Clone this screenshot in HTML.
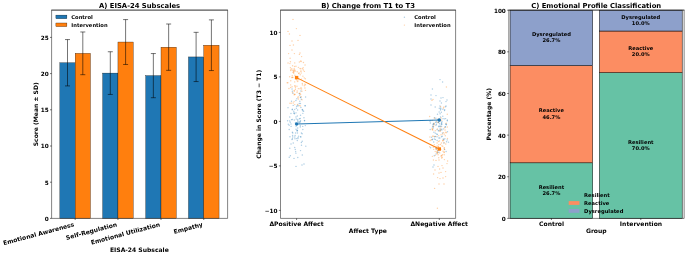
<!DOCTYPE html>
<html lang="en">
<head>
<meta charset="utf-8">
<title>EISA-24 figure</title>
<style>
html,body{margin:0;padding:0;background:#fff;}
body{width:685px;height:253px;overflow:hidden;}
svg{display:block;will-change:transform;}
text{white-space:pre;}
</style>
</head>
<body>
<svg width="685" height="253" viewBox="0 0 685 253" font-family="'DejaVu Sans','Liberation Sans',sans-serif" font-weight="bold" fill="#000">
<rect width="685" height="253" fill="#fff"/>
<g id="panelA">
<rect x="59.85" y="62.74" width="15.3" height="155.66" fill="#1f77b4" stroke="#000" stroke-width="0.3"/>
<rect x="75.15" y="53.33" width="15.3" height="165.07" fill="#ff7f0e" stroke="#000" stroke-width="0.3"/>
<path d="M67.5 39.57V85.91M65 39.57H70M65 85.91H70" stroke="#000" stroke-width="0.55" fill="none"/>
<path d="M82.8 31.97V74.69M80.3 31.97H85.3M80.3 74.69H85.3" stroke="#000" stroke-width="0.55" fill="none"/>
<rect x="102.65" y="73.09" width="15.3" height="145.31" fill="#1f77b4" stroke="#000" stroke-width="0.3"/>
<rect x="117.95" y="42.03" width="15.3" height="176.37" fill="#ff7f0e" stroke="#000" stroke-width="0.3"/>
<path d="M110.3 51.74V94.45M107.8 51.74H112.8M107.8 94.45H112.8" stroke="#000" stroke-width="0.55" fill="none"/>
<path d="M125.6 19.59V64.48M123.1 19.59H128.1M123.1 64.48H128.1" stroke="#000" stroke-width="0.55" fill="none"/>
<rect x="145.7" y="75.63" width="15.3" height="142.77" fill="#1f77b4" stroke="#000" stroke-width="0.3"/>
<rect x="161" y="47.17" width="15.3" height="171.23" fill="#ff7f0e" stroke="#000" stroke-width="0.3"/>
<path d="M153.35 53.55V97.71M150.85 53.55H155.85M150.85 97.71H155.85" stroke="#000" stroke-width="0.55" fill="none"/>
<path d="M168.65 24.01V70.34M166.15 24.01H171.15M166.15 70.34H171.15" stroke="#000" stroke-width="0.55" fill="none"/>
<rect x="188.45" y="56.95" width="15.3" height="161.45" fill="#1f77b4" stroke="#000" stroke-width="0.3"/>
<rect x="203.75" y="45.22" width="15.3" height="173.18" fill="#ff7f0e" stroke="#000" stroke-width="0.3"/>
<path d="M196.1 32.33V81.56M193.6 32.33H198.6M193.6 81.56H198.6" stroke="#000" stroke-width="0.55" fill="none"/>
<path d="M211.4 19.88V70.56M208.9 19.88H213.9M208.9 70.56H213.9" stroke="#000" stroke-width="0.55" fill="none"/>
<path d="M51.32 10.1H227.88" stroke="#222" stroke-width="0.95" fill="none"/>
<path d="M51.6 10.2V218.4H227.6V10.2" stroke="#222" stroke-width="0.56" fill="none"/>
<line x1="50" y1="218.4" x2="51.6" y2="218.4" stroke="#000" stroke-width="0.55"/>
<text x="48.65" y="220.79" font-size="5.72" text-anchor="end">0</text>
<line x1="50" y1="182.2" x2="51.6" y2="182.2" stroke="#000" stroke-width="0.55"/>
<text x="48.65" y="184.59" font-size="5.72" text-anchor="end">5</text>
<line x1="50" y1="146" x2="51.6" y2="146" stroke="#000" stroke-width="0.55"/>
<text x="48.65" y="148.39" font-size="5.72" text-anchor="end">10</text>
<line x1="50" y1="109.8" x2="51.6" y2="109.8" stroke="#000" stroke-width="0.55"/>
<text x="48.65" y="112.19" font-size="5.72" text-anchor="end">15</text>
<line x1="50" y1="73.6" x2="51.6" y2="73.6" stroke="#000" stroke-width="0.55"/>
<text x="48.65" y="75.99" font-size="5.72" text-anchor="end">20</text>
<line x1="50" y1="37.4" x2="51.6" y2="37.4" stroke="#000" stroke-width="0.55"/>
<text x="48.65" y="39.79" font-size="5.72" text-anchor="end">25</text>
<line x1="75.15" y1="218.4" x2="75.15" y2="220" stroke="#000" stroke-width="0.55"/>
<text transform="translate(74.55 226.3) rotate(-15)" font-size="6.06" text-anchor="end">Emotional Awareness</text>
<line x1="117.95" y1="218.4" x2="117.95" y2="220" stroke="#000" stroke-width="0.55"/>
<text transform="translate(117.35 226.3) rotate(-15)" font-size="6.06" text-anchor="end">Self-Regulation</text>
<line x1="161" y1="218.4" x2="161" y2="220" stroke="#000" stroke-width="0.55"/>
<text transform="translate(160.4 226.3) rotate(-15)" font-size="6.06" text-anchor="end">Emotional Utilization</text>
<line x1="203.75" y1="218.4" x2="203.75" y2="220" stroke="#000" stroke-width="0.55"/>
<text transform="translate(203.15 226.3) rotate(-15)" font-size="6.06" text-anchor="end">Empathy</text>
<text x="139.6" y="7.7" font-size="6.82" text-anchor="middle">A) EISA-24 Subscales</text>
<text x="139.35" y="251.5" font-size="6.06" text-anchor="middle">EISA-24 Subscale</text>
<text transform="translate(38.3 114.3) rotate(-90)" font-size="6.06" text-anchor="middle">Score (Mean ± SD)</text>
<rect x="53.6" y="12.2" width="57" height="17.4" rx="1" fill="#fff" fill-opacity="0.8"/>
<rect x="55.9" y="15.1" width="11" height="3.6" fill="#1f77b4" stroke="#000" stroke-width="0.3"/>
<rect x="55.9" y="23" width="11" height="3.6" fill="#ff7f0e" stroke="#000" stroke-width="0.3"/>
<text x="71.3" y="18.65" font-size="5.2" text-anchor="start">Control</text>
<text x="71.3" y="26.55" font-size="5.2" text-anchor="start">Intervention</text>
</g>
<g id="panelB">
<g fill="#1f77b4" fill-opacity="0.36">
<circle cx="289.75" cy="117.01" r="0.72"/><circle cx="302.17" cy="133.66" r="0.72"/><circle cx="289.16" cy="125.29" r="0.72"/><circle cx="299.28" cy="103.54" r="0.72"/><circle cx="289.79" cy="148.23" r="0.72"/><circle cx="300.55" cy="115.21" r="0.72"/><circle cx="305.19" cy="105.71" r="0.72"/><circle cx="296.03" cy="129.2" r="0.72"/><circle cx="294.98" cy="138.74" r="0.72"/><circle cx="290.23" cy="122.29" r="0.72"/><circle cx="297.41" cy="130.52" r="0.72"/><circle cx="296.25" cy="118.97" r="0.72"/><circle cx="300.48" cy="103.57" r="0.72"/><circle cx="297.77" cy="157.52" r="0.72"/><circle cx="300.53" cy="150.6" r="0.72"/><circle cx="295.64" cy="151.62" r="0.72"/><circle cx="296.61" cy="138.62" r="0.72"/><circle cx="296.33" cy="108.33" r="0.72"/><circle cx="289.19" cy="129.45" r="0.72"/><circle cx="300.31" cy="125.8" r="0.72"/><circle cx="298.67" cy="122.14" r="0.72"/><circle cx="290.97" cy="113.53" r="0.72"/><circle cx="292.05" cy="89.09" r="0.72"/><circle cx="293.77" cy="111.25" r="0.72"/><circle cx="296.61" cy="106.27" r="0.72"/><circle cx="293.23" cy="105.4" r="0.72"/><circle cx="295.91" cy="100.46" r="0.72"/><circle cx="300.1" cy="121.43" r="0.72"/><circle cx="292.23" cy="109.72" r="0.72"/><circle cx="299.22" cy="93.38" r="0.72"/><circle cx="294.49" cy="113.7" r="0.72"/><circle cx="299.44" cy="118.78" r="0.72"/><circle cx="297.77" cy="120.67" r="0.72"/><circle cx="293.25" cy="143.03" r="0.72"/><circle cx="294.38" cy="113.03" r="0.72"/><circle cx="305.06" cy="105.81" r="0.72"/><circle cx="302.5" cy="109.54" r="0.72"/><circle cx="300.51" cy="120.64" r="0.72"/><circle cx="300.92" cy="90.92" r="0.72"/><circle cx="294.77" cy="137.04" r="0.72"/><circle cx="297.97" cy="105.92" r="0.72"/><circle cx="301.49" cy="145.3" r="0.72"/><circle cx="297.59" cy="110.01" r="0.72"/><circle cx="297.31" cy="140.59" r="0.72"/><circle cx="295.97" cy="117.08" r="0.72"/><circle cx="302.85" cy="110.81" r="0.72"/><circle cx="296.93" cy="98.75" r="0.72"/><circle cx="292.34" cy="109.25" r="0.72"/><circle cx="302.83" cy="129.53" r="0.72"/><circle cx="291.52" cy="119.64" r="0.72"/><circle cx="299.56" cy="95.13" r="0.72"/><circle cx="290.98" cy="124.03" r="0.72"/><circle cx="300.23" cy="127.02" r="0.72"/><circle cx="302.22" cy="141.22" r="0.72"/><circle cx="294.29" cy="119.92" r="0.72"/><circle cx="300.06" cy="121.95" r="0.72"/><circle cx="305.32" cy="125.6" r="0.72"/><circle cx="292.76" cy="132.94" r="0.72"/><circle cx="300.64" cy="97.45" r="0.72"/><circle cx="300.26" cy="118.43" r="0.72"/><circle cx="292.61" cy="135.48" r="0.72"/><circle cx="293.61" cy="113.11" r="0.72"/><circle cx="294.72" cy="109.35" r="0.72"/><circle cx="297.06" cy="130.29" r="0.72"/><circle cx="297.26" cy="116.06" r="0.72"/><circle cx="301.41" cy="132.99" r="0.72"/><circle cx="295.3" cy="149.56" r="0.72"/><circle cx="305.58" cy="96.94" r="0.72"/><circle cx="295.6" cy="133.01" r="0.72"/><circle cx="289.68" cy="120.89" r="0.72"/><circle cx="297.98" cy="138.61" r="0.72"/><circle cx="304.49" cy="120.53" r="0.72"/><circle cx="287.59" cy="120.7" r="0.72"/><circle cx="302.87" cy="113.37" r="0.72"/><circle cx="295.89" cy="153.13" r="0.72"/><circle cx="291.52" cy="101.28" r="0.72"/><circle cx="305.81" cy="146.15" r="0.72"/><circle cx="288.01" cy="107.63" r="0.72"/><circle cx="301.38" cy="142.51" r="0.72"/><circle cx="292.71" cy="137.04" r="0.72"/><circle cx="289.94" cy="136.78" r="0.72"/><circle cx="303.6" cy="111.18" r="0.72"/><circle cx="296.12" cy="126.6" r="0.72"/><circle cx="291.1" cy="126.38" r="0.72"/><circle cx="289.25" cy="157.29" r="0.72"/><circle cx="300.5" cy="97.15" r="0.72"/><circle cx="301.29" cy="99.17" r="0.72"/><circle cx="298.01" cy="137.49" r="0.72"/><circle cx="297.08" cy="131.06" r="0.72"/><circle cx="290.38" cy="155.7" r="0.72"/><circle cx="288.3" cy="124.17" r="0.72"/><circle cx="297.44" cy="132.94" r="0.72"/><circle cx="304.6" cy="120.72" r="0.72"/><circle cx="299.86" cy="101.29" r="0.72"/><circle cx="300.81" cy="136.94" r="0.72"/><circle cx="303.94" cy="117.76" r="0.72"/><circle cx="302.24" cy="109.8" r="0.72"/><circle cx="300.63" cy="136.65" r="0.72"/><circle cx="292.37" cy="132.2" r="0.72"/><circle cx="300.9" cy="107.54" r="0.72"/><circle cx="302.26" cy="155.09" r="0.72"/><circle cx="296.03" cy="112.85" r="0.72"/><circle cx="292.32" cy="119.49" r="0.72"/><circle cx="297.9" cy="105.24" r="0.72"/><circle cx="292" cy="139.56" r="0.72"/><circle cx="292.33" cy="91.31" r="0.72"/><circle cx="302.71" cy="126.38" r="0.72"/><circle cx="297.86" cy="121.93" r="0.72"/><circle cx="297.74" cy="127.97" r="0.72"/><circle cx="294.73" cy="147.56" r="0.72"/><circle cx="293.01" cy="93.22" r="0.72"/><circle cx="299.6" cy="122.86" r="0.72"/><circle cx="295.4" cy="122.9" r="0.72"/><circle cx="298.58" cy="136.14" r="0.72"/><circle cx="297.7" cy="119.58" r="0.72"/><circle cx="292.41" cy="138.82" r="0.72"/><circle cx="291.01" cy="143.94" r="0.72"/><circle cx="295.11" cy="135.49" r="0.72"/><circle cx="294" cy="158.4" r="0.72"/><circle cx="296" cy="166.4" r="0.72"/><circle cx="302" cy="165" r="0.72"/><circle cx="304" cy="164" r="0.72"/><circle cx="434" cy="165" r="0.72"/><circle cx="433" cy="167" r="0.72"/>
</g>
<g fill="#1f77b4" fill-opacity="0.36">
<circle cx="435.83" cy="118.24" r="0.72"/><circle cx="445.62" cy="118.62" r="0.72"/><circle cx="438.51" cy="130.88" r="0.72"/><circle cx="437.09" cy="140.38" r="0.72"/><circle cx="432.22" cy="139.68" r="0.72"/><circle cx="441.29" cy="124.2" r="0.72"/><circle cx="447.47" cy="131.69" r="0.72"/><circle cx="430.64" cy="147.69" r="0.72"/><circle cx="446.56" cy="141.83" r="0.72"/><circle cx="445.17" cy="126.79" r="0.72"/><circle cx="437.1" cy="129.79" r="0.72"/><circle cx="437.49" cy="152.34" r="0.72"/><circle cx="433.69" cy="141.97" r="0.72"/><circle cx="437.42" cy="150.62" r="0.72"/><circle cx="437.02" cy="136.7" r="0.72"/><circle cx="442.5" cy="132.95" r="0.72"/><circle cx="444.54" cy="110.44" r="0.72"/><circle cx="430.2" cy="129.44" r="0.72"/><circle cx="437.96" cy="119.64" r="0.72"/><circle cx="440.04" cy="126.01" r="0.72"/><circle cx="440.36" cy="130.41" r="0.72"/><circle cx="441.32" cy="112.17" r="0.72"/><circle cx="430.37" cy="122.93" r="0.72"/><circle cx="443.89" cy="142.96" r="0.72"/><circle cx="445.45" cy="126.91" r="0.72"/><circle cx="441.56" cy="122.35" r="0.72"/><circle cx="434.92" cy="136.56" r="0.72"/><circle cx="443.28" cy="138.95" r="0.72"/><circle cx="446.08" cy="151.57" r="0.72"/><circle cx="445.99" cy="124.25" r="0.72"/><circle cx="435.94" cy="125.25" r="0.72"/><circle cx="432.84" cy="124.69" r="0.72"/><circle cx="438.25" cy="122.57" r="0.72"/><circle cx="445.92" cy="124.07" r="0.72"/><circle cx="433.29" cy="127.94" r="0.72"/><circle cx="438.55" cy="126.1" r="0.72"/><circle cx="433.68" cy="124.41" r="0.72"/><circle cx="435.9" cy="122.4" r="0.72"/><circle cx="445.59" cy="106.72" r="0.72"/><circle cx="434.46" cy="117.69" r="0.72"/><circle cx="441.93" cy="124.22" r="0.72"/><circle cx="439.52" cy="123.73" r="0.72"/><circle cx="440.68" cy="107.97" r="0.72"/><circle cx="437.4" cy="134.46" r="0.72"/><circle cx="439.29" cy="108.16" r="0.72"/><circle cx="433.41" cy="123.59" r="0.72"/><circle cx="435.19" cy="107.04" r="0.72"/><circle cx="436.05" cy="121.9" r="0.72"/><circle cx="434.87" cy="136.69" r="0.72"/><circle cx="443.88" cy="139.67" r="0.72"/><circle cx="441.83" cy="130.12" r="0.72"/><circle cx="438.71" cy="152.39" r="0.72"/><circle cx="443.3" cy="128.88" r="0.72"/><circle cx="441.58" cy="126.17" r="0.72"/><circle cx="439.15" cy="111.95" r="0.72"/><circle cx="442.19" cy="136.18" r="0.72"/><circle cx="440.02" cy="128.92" r="0.72"/><circle cx="443.03" cy="118.65" r="0.72"/><circle cx="434.22" cy="155.68" r="0.72"/><circle cx="442.02" cy="121.72" r="0.72"/><circle cx="429.87" cy="121.05" r="0.72"/><circle cx="430.78" cy="120.45" r="0.72"/><circle cx="440.1" cy="113.66" r="0.72"/><circle cx="440.52" cy="116.93" r="0.72"/><circle cx="432.92" cy="126.8" r="0.72"/><circle cx="436.44" cy="124.17" r="0.72"/><circle cx="440.81" cy="108.96" r="0.72"/><circle cx="441.55" cy="123.51" r="0.72"/><circle cx="444.53" cy="149.4" r="0.72"/><circle cx="441.55" cy="129.24" r="0.72"/><circle cx="444.86" cy="138.76" r="0.72"/><circle cx="438.73" cy="122.32" r="0.72"/><circle cx="438.76" cy="130.37" r="0.72"/><circle cx="438.92" cy="138.08" r="0.72"/><circle cx="440.44" cy="109.91" r="0.72"/><circle cx="438.32" cy="120.22" r="0.72"/><circle cx="447.19" cy="139.89" r="0.72"/><circle cx="436.18" cy="153.9" r="0.72"/><circle cx="435.38" cy="133.14" r="0.72"/><circle cx="433.92" cy="132.33" r="0.72"/><circle cx="438.2" cy="122.01" r="0.72"/><circle cx="438.96" cy="150.84" r="0.72"/><circle cx="441.56" cy="136.66" r="0.72"/><circle cx="448.48" cy="142.15" r="0.72"/><circle cx="436.05" cy="148.56" r="0.72"/><circle cx="439.85" cy="138.05" r="0.72"/><circle cx="438.93" cy="126.68" r="0.72"/><circle cx="444.54" cy="118.87" r="0.72"/><circle cx="434.26" cy="139.03" r="0.72"/><circle cx="436.74" cy="133.94" r="0.72"/><circle cx="435.39" cy="139.47" r="0.72"/><circle cx="433.86" cy="123.63" r="0.72"/><circle cx="447.33" cy="119.99" r="0.72"/><circle cx="436.44" cy="148.72" r="0.72"/><circle cx="440.49" cy="120.45" r="0.72"/><circle cx="432.43" cy="139.32" r="0.72"/><circle cx="442.81" cy="116.32" r="0.72"/><circle cx="437.49" cy="114.27" r="0.72"/><circle cx="432.96" cy="126.53" r="0.72"/><circle cx="446.4" cy="124.7" r="0.72"/><circle cx="447.28" cy="120.76" r="0.72"/><circle cx="440.11" cy="126.57" r="0.72"/><circle cx="431.57" cy="137.25" r="0.72"/><circle cx="442.91" cy="109.19" r="0.72"/><circle cx="444.64" cy="109.84" r="0.72"/><circle cx="440" cy="79.6" r="0.72"/><circle cx="442.6" cy="82" r="0.72"/><circle cx="432.4" cy="89" r="0.72"/><circle cx="431" cy="95" r="0.72"/><circle cx="436" cy="95.6" r="0.72"/><circle cx="441" cy="98" r="0.72"/><circle cx="443" cy="97.6" r="0.72"/><circle cx="447" cy="100" r="0.72"/><circle cx="431" cy="99" r="0.72"/><circle cx="440" cy="101" r="0.72"/><circle cx="441.4" cy="103" r="0.72"/><circle cx="446" cy="101.6" r="0.72"/><circle cx="431" cy="105" r="0.72"/><circle cx="440" cy="106" r="0.72"/><circle cx="446" cy="106" r="0.72"/>
</g>
<g fill="#ff7f0e" fill-opacity="0.36">
<circle cx="302.32" cy="83.47" r="0.72"/><circle cx="295.34" cy="89.43" r="0.72"/><circle cx="300.04" cy="93.17" r="0.72"/><circle cx="290.66" cy="84.88" r="0.72"/><circle cx="305.3" cy="78.81" r="0.72"/><circle cx="297.5" cy="77.59" r="0.72"/><circle cx="304.22" cy="77.86" r="0.72"/><circle cx="302.02" cy="99.78" r="0.72"/><circle cx="299.33" cy="62.05" r="0.72"/><circle cx="294.67" cy="81.88" r="0.72"/><circle cx="295.23" cy="86.19" r="0.72"/><circle cx="294.92" cy="94.53" r="0.72"/><circle cx="292.25" cy="75.78" r="0.72"/><circle cx="298.35" cy="88.63" r="0.72"/><circle cx="299.52" cy="93.8" r="0.72"/><circle cx="297.8" cy="97.16" r="0.72"/><circle cx="293.71" cy="73.2" r="0.72"/><circle cx="296.39" cy="79.34" r="0.72"/><circle cx="304.36" cy="71.39" r="0.72"/><circle cx="288.94" cy="88.56" r="0.72"/><circle cx="300.05" cy="88.73" r="0.72"/><circle cx="289.97" cy="103.16" r="0.72"/><circle cx="292.28" cy="77.5" r="0.72"/><circle cx="292.97" cy="77.4" r="0.72"/><circle cx="290.79" cy="70.46" r="0.72"/><circle cx="297.09" cy="80.74" r="0.72"/><circle cx="302.44" cy="84.89" r="0.72"/><circle cx="294.78" cy="85.79" r="0.72"/><circle cx="294.13" cy="94.83" r="0.72"/><circle cx="301.17" cy="72.99" r="0.72"/><circle cx="301.58" cy="79.12" r="0.72"/><circle cx="299.13" cy="72.93" r="0.72"/><circle cx="299.44" cy="105.61" r="0.72"/><circle cx="297.06" cy="92.48" r="0.72"/><circle cx="292.75" cy="70.24" r="0.72"/><circle cx="298.57" cy="96.85" r="0.72"/><circle cx="291.77" cy="68.79" r="0.72"/><circle cx="298.65" cy="73.58" r="0.72"/><circle cx="290.67" cy="87.45" r="0.72"/><circle cx="294.73" cy="94.32" r="0.72"/><circle cx="296.96" cy="86.18" r="0.72"/><circle cx="300.75" cy="68.86" r="0.72"/><circle cx="295.96" cy="66.18" r="0.72"/><circle cx="294.73" cy="69.85" r="0.72"/><circle cx="294.76" cy="104.61" r="0.72"/><circle cx="290.1" cy="58.17" r="0.72"/><circle cx="293.49" cy="71.83" r="0.72"/><circle cx="292.09" cy="86.68" r="0.72"/><circle cx="291.86" cy="77.57" r="0.72"/><circle cx="301.91" cy="91.27" r="0.72"/><circle cx="300.58" cy="94.55" r="0.72"/><circle cx="299.98" cy="68.46" r="0.72"/><circle cx="303.39" cy="70.02" r="0.72"/><circle cx="289.92" cy="63.6" r="0.72"/><circle cx="290.43" cy="61.75" r="0.72"/><circle cx="305.06" cy="65.06" r="0.72"/><circle cx="297.54" cy="104.39" r="0.72"/><circle cx="294.9" cy="75.19" r="0.72"/><circle cx="293.74" cy="70.17" r="0.72"/><circle cx="297.76" cy="81.51" r="0.72"/><circle cx="303.44" cy="62.42" r="0.72"/><circle cx="294.11" cy="90.7" r="0.72"/><circle cx="287.16" cy="82.7" r="0.72"/><circle cx="292.59" cy="65.84" r="0.72"/><circle cx="304.8" cy="84.11" r="0.72"/><circle cx="289.65" cy="76.73" r="0.72"/><circle cx="301.56" cy="88.97" r="0.72"/><circle cx="300.43" cy="105.89" r="0.72"/><circle cx="304.33" cy="85.8" r="0.72"/><circle cx="287.89" cy="82.81" r="0.72"/><circle cx="298.49" cy="98.95" r="0.72"/><circle cx="293.84" cy="72.03" r="0.72"/><circle cx="294.19" cy="68.67" r="0.72"/><circle cx="301.08" cy="71.12" r="0.72"/><circle cx="297.17" cy="91.05" r="0.72"/><circle cx="302.34" cy="68.75" r="0.72"/><circle cx="290.42" cy="67.81" r="0.72"/><circle cx="297.21" cy="71.81" r="0.72"/><circle cx="300.19" cy="74.68" r="0.72"/><circle cx="305.46" cy="90.38" r="0.72"/><circle cx="294.36" cy="70.9" r="0.72"/><circle cx="300.78" cy="60.97" r="0.72"/><circle cx="304.93" cy="87.97" r="0.72"/><circle cx="303.14" cy="67.8" r="0.72"/><circle cx="290.76" cy="80.72" r="0.72"/><circle cx="301" cy="87.82" r="0.72"/><circle cx="292.48" cy="92.8" r="0.72"/><circle cx="300.78" cy="71.1" r="0.72"/><circle cx="291.36" cy="103.13" r="0.72"/><circle cx="295.44" cy="87.78" r="0.72"/><circle cx="294.34" cy="90.94" r="0.72"/><circle cx="302.92" cy="76.14" r="0.72"/><circle cx="298.4" cy="67.37" r="0.72"/><circle cx="294.71" cy="62.89" r="0.72"/><circle cx="301.2" cy="96.64" r="0.72"/><circle cx="288.04" cy="63.07" r="0.72"/><circle cx="298.8" cy="79.81" r="0.72"/><circle cx="294.12" cy="101.62" r="0.72"/><circle cx="294.55" cy="66.44" r="0.72"/><circle cx="292.88" cy="72.36" r="0.72"/><circle cx="290.96" cy="69.71" r="0.72"/><circle cx="295.38" cy="71.05" r="0.72"/><circle cx="293.2" cy="102.92" r="0.72"/><circle cx="305.44" cy="84.73" r="0.72"/><circle cx="301.08" cy="61.59" r="0.72"/><circle cx="293" cy="19.4" r="0.72"/><circle cx="296.4" cy="28.6" r="0.72"/><circle cx="288" cy="31.4" r="0.72"/><circle cx="289.4" cy="34" r="0.72"/><circle cx="300" cy="35.4" r="0.72"/><circle cx="298" cy="40.4" r="0.72"/><circle cx="292" cy="41" r="0.72"/><circle cx="290" cy="45.4" r="0.72"/><circle cx="293.4" cy="45" r="0.72"/><circle cx="292" cy="50" r="0.72"/><circle cx="288.6" cy="53.6" r="0.72"/><circle cx="294.4" cy="53.6" r="0.72"/><circle cx="300" cy="53" r="0.72"/><circle cx="299.4" cy="54.4" r="0.72"/><circle cx="301.6" cy="56.6" r="0.72"/>
</g>
<g fill="#ff7f0e" fill-opacity="0.36">
<circle cx="445.89" cy="132.15" r="0.72"/><circle cx="442.78" cy="134.04" r="0.72"/><circle cx="432.14" cy="128.27" r="0.72"/><circle cx="439.72" cy="152.9" r="0.72"/><circle cx="440.44" cy="144.55" r="0.72"/><circle cx="444.2" cy="154.77" r="0.72"/><circle cx="444.5" cy="149.57" r="0.72"/><circle cx="443.04" cy="151.21" r="0.72"/><circle cx="434.33" cy="123.14" r="0.72"/><circle cx="436.86" cy="152.13" r="0.72"/><circle cx="434.34" cy="144.62" r="0.72"/><circle cx="437.12" cy="142.96" r="0.72"/><circle cx="431.4" cy="139.75" r="0.72"/><circle cx="444.44" cy="134.12" r="0.72"/><circle cx="432.89" cy="136.07" r="0.72"/><circle cx="441.45" cy="142.93" r="0.72"/><circle cx="441.71" cy="155.91" r="0.72"/><circle cx="440.5" cy="129.19" r="0.72"/><circle cx="438.71" cy="144.8" r="0.72"/><circle cx="435.51" cy="136.4" r="0.72"/><circle cx="438.46" cy="147.01" r="0.72"/><circle cx="432.25" cy="129.63" r="0.72"/><circle cx="432.82" cy="129.97" r="0.72"/><circle cx="446.1" cy="132.66" r="0.72"/><circle cx="438.72" cy="135.63" r="0.72"/><circle cx="432.44" cy="129.15" r="0.72"/><circle cx="447.31" cy="126.91" r="0.72"/><circle cx="444.57" cy="127.75" r="0.72"/><circle cx="446.18" cy="123.34" r="0.72"/><circle cx="438.74" cy="157.75" r="0.72"/><circle cx="442.93" cy="141" r="0.72"/><circle cx="435.28" cy="130.75" r="0.72"/><circle cx="447.28" cy="114.18" r="0.72"/><circle cx="432.38" cy="156.37" r="0.72"/><circle cx="435.22" cy="155.19" r="0.72"/><circle cx="429.9" cy="137.06" r="0.72"/><circle cx="432.38" cy="120.39" r="0.72"/><circle cx="439.72" cy="121.15" r="0.72"/><circle cx="437.17" cy="151.51" r="0.72"/><circle cx="442.76" cy="146.3" r="0.72"/><circle cx="444.38" cy="147.7" r="0.72"/><circle cx="438.34" cy="141.51" r="0.72"/><circle cx="445.28" cy="135.84" r="0.72"/><circle cx="437.21" cy="152.72" r="0.72"/><circle cx="438.09" cy="154.68" r="0.72"/><circle cx="436.55" cy="121.01" r="0.72"/><circle cx="433.29" cy="147.19" r="0.72"/><circle cx="440.91" cy="126.89" r="0.72"/><circle cx="444.31" cy="152.07" r="0.72"/><circle cx="441" cy="156" r="0.72"/><circle cx="437.53" cy="153.49" r="0.72"/><circle cx="443.62" cy="132.61" r="0.72"/><circle cx="433.67" cy="149.35" r="0.72"/><circle cx="447.47" cy="138.43" r="0.72"/><circle cx="435.22" cy="151.58" r="0.72"/><circle cx="437.35" cy="128.88" r="0.72"/><circle cx="439.49" cy="140.98" r="0.72"/><circle cx="444.1" cy="142.75" r="0.72"/><circle cx="434.37" cy="118.15" r="0.72"/><circle cx="445.06" cy="130.09" r="0.72"/><circle cx="444.18" cy="148.3" r="0.72"/><circle cx="439.24" cy="148.3" r="0.72"/><circle cx="444.02" cy="152.47" r="0.72"/><circle cx="441.1" cy="117.94" r="0.72"/><circle cx="442.46" cy="154.61" r="0.72"/><circle cx="441.63" cy="157.91" r="0.72"/><circle cx="442.24" cy="157.5" r="0.72"/><circle cx="435.91" cy="146.73" r="0.72"/><circle cx="441.65" cy="120.13" r="0.72"/><circle cx="443.44" cy="107.93" r="0.72"/><circle cx="441.82" cy="145.86" r="0.72"/><circle cx="437.16" cy="146.06" r="0.72"/><circle cx="440.1" cy="130.95" r="0.72"/><circle cx="441.02" cy="134.79" r="0.72"/><circle cx="433.56" cy="126.4" r="0.72"/><circle cx="439.92" cy="131.07" r="0.72"/><circle cx="437.96" cy="118.89" r="0.72"/><circle cx="441.81" cy="155.38" r="0.72"/><circle cx="436.61" cy="149.21" r="0.72"/><circle cx="443.22" cy="139.88" r="0.72"/><circle cx="438.02" cy="122.52" r="0.72"/><circle cx="443.95" cy="107.04" r="0.72"/><circle cx="440.76" cy="149.42" r="0.72"/><circle cx="430.24" cy="140.49" r="0.72"/><circle cx="429.65" cy="116.41" r="0.72"/><circle cx="435.77" cy="148.98" r="0.72"/><circle cx="434.08" cy="124.82" r="0.72"/><circle cx="433.08" cy="136.39" r="0.72"/><circle cx="438.26" cy="146.61" r="0.72"/><circle cx="442.83" cy="140.38" r="0.72"/><circle cx="429.65" cy="146.81" r="0.72"/><circle cx="445.76" cy="143.93" r="0.72"/><circle cx="446.4" cy="87" r="0.72"/><circle cx="433" cy="99.4" r="0.72"/><circle cx="432" cy="100.4" r="0.72"/><circle cx="440.6" cy="106.6" r="0.72"/><circle cx="433.4" cy="160" r="0.72"/><circle cx="436" cy="160.4" r="0.72"/><circle cx="439" cy="160" r="0.72"/><circle cx="444.4" cy="159.6" r="0.72"/><circle cx="447.6" cy="161" r="0.72"/><circle cx="438" cy="166.4" r="0.72"/><circle cx="442" cy="165.6" r="0.72"/><circle cx="447" cy="163.6" r="0.72"/><circle cx="435" cy="170" r="0.72"/><circle cx="439.6" cy="169" r="0.72"/><circle cx="443" cy="168" r="0.72"/><circle cx="445.6" cy="171.6" r="0.72"/><circle cx="433.6" cy="174" r="0.72"/><circle cx="439" cy="173" r="0.72"/><circle cx="441" cy="172.4" r="0.72"/><circle cx="437.6" cy="177.6" r="0.72"/><circle cx="440" cy="178.6" r="0.72"/><circle cx="443" cy="178" r="0.72"/><circle cx="445.6" cy="176.6" r="0.72"/><circle cx="439" cy="184" r="0.72"/><circle cx="444" cy="184" r="0.72"/><circle cx="434.6" cy="188.4" r="0.72"/><circle cx="437.4" cy="208.3" r="0.72"/>
</g>
<path d="M296.6 124L439.3 120" stroke="#1f77b4" stroke-width="1.05" fill="none"/>
<path d="M296.6 77.6L439.3 149" stroke="#ff7f0e" stroke-width="1.05" fill="none"/>
<circle cx="296.6" cy="124" r="1.7" fill="#1f77b4"/>
<circle cx="439.3" cy="120" r="1.7" fill="#1f77b4"/>
<rect x="294.9" y="75.9" width="3.4" height="3.4" fill="#ff7f0e"/>
<rect x="437.6" y="147.3" width="3.4" height="3.4" fill="#ff7f0e"/>
<path d="M280.22 10.1H455.88" stroke="#222" stroke-width="0.95" fill="none"/>
<path d="M280.5 10.2V218.4H455.6V10.2" stroke="#222" stroke-width="0.56" fill="none"/>
<line x1="278.9" y1="210.4" x2="280.5" y2="210.4" stroke="#000" stroke-width="0.55"/>
<text x="277.55" y="212.79" font-size="5.72" text-anchor="end">−10</text>
<line x1="278.9" y1="165.9" x2="280.5" y2="165.9" stroke="#000" stroke-width="0.55"/>
<text x="277.55" y="168.29" font-size="5.72" text-anchor="end">−5</text>
<line x1="278.9" y1="121.4" x2="280.5" y2="121.4" stroke="#000" stroke-width="0.55"/>
<text x="277.55" y="123.79" font-size="5.72" text-anchor="end">0</text>
<line x1="278.9" y1="76.9" x2="280.5" y2="76.9" stroke="#000" stroke-width="0.55"/>
<text x="277.55" y="79.29" font-size="5.72" text-anchor="end">5</text>
<line x1="278.9" y1="32.4" x2="280.5" y2="32.4" stroke="#000" stroke-width="0.55"/>
<text x="277.55" y="34.79" font-size="5.72" text-anchor="end">10</text>
<line x1="296.6" y1="218.4" x2="296.6" y2="220" stroke="#000" stroke-width="0.55"/>
<text x="296.5" y="226.1" font-size="6.06" text-anchor="middle">ΔPositive Affect</text>
<line x1="439.3" y1="218.4" x2="439.3" y2="220" stroke="#000" stroke-width="0.55"/>
<text x="439.2" y="226.1" font-size="6.06" text-anchor="middle">ΔNegative Affect</text>
<text x="368.05" y="7.7" font-size="6.82" text-anchor="middle">B) Change from T1 to T3</text>
<text x="367.85" y="233.2" font-size="6.06" text-anchor="middle">Affect Type</text>
<text transform="translate(261.1 114.2) rotate(-90)" font-size="6.06" text-anchor="middle">Change in Score (T3 − T1)</text>
<rect x="398.4" y="12.2" width="55.2" height="17.4" rx="1" fill="#fff" fill-opacity="0.8"/>
<circle cx="404.4" cy="17.2" r="0.72" fill="#1f77b4" fill-opacity="0.36"/>
<circle cx="404.4" cy="25.1" r="0.72" fill="#ff7f0e" fill-opacity="0.36"/>
<text x="414.3" y="18.65" font-size="5.2" text-anchor="start">Control</text>
<text x="414.3" y="26.55" font-size="5.2" text-anchor="start">Intervention</text>
</g>
<g id="panelC">
<rect x="510.1" y="162.81" width="82.6" height="55.59" fill="#66c2a5" stroke="#000" stroke-width="0.5"/>
<rect x="510.1" y="65.58" width="82.6" height="97.23" fill="#fc8d62" stroke="#000" stroke-width="0.5"/>
<rect x="510.1" y="10.2" width="82.6" height="55.38" fill="#8da0cb" stroke="#000" stroke-width="0.5"/>
<rect x="599.4" y="72.66" width="82.8" height="145.74" fill="#66c2a5" stroke="#000" stroke-width="0.5"/>
<rect x="599.4" y="31.02" width="82.8" height="41.64" fill="#fc8d62" stroke="#000" stroke-width="0.5"/>
<rect x="599.4" y="10.2" width="82.8" height="20.82" fill="#8da0cb" stroke="#000" stroke-width="0.5"/>
<text x="551.4" y="188.81" font-size="5.17" text-anchor="middle">Resilient</text>
<text x="551.4" y="194.91" font-size="5.17" text-anchor="middle">26.7%</text>
<text x="551.4" y="112.4" font-size="5.17" text-anchor="middle">Reactive</text>
<text x="551.4" y="118.5" font-size="5.17" text-anchor="middle">46.7%</text>
<text x="551.4" y="36.09" font-size="5.17" text-anchor="middle">Dysregulated</text>
<text x="551.4" y="42.19" font-size="5.17" text-anchor="middle">26.7%</text>
<text x="640.8" y="143.73" font-size="5.17" text-anchor="middle">Resilient</text>
<text x="640.8" y="149.83" font-size="5.17" text-anchor="middle">70.0%</text>
<text x="640.8" y="50.04" font-size="5.17" text-anchor="middle">Reactive</text>
<text x="640.8" y="56.14" font-size="5.17" text-anchor="middle">20.0%</text>
<text x="640.8" y="18.81" font-size="5.17" text-anchor="middle">Dysregulated</text>
<text x="640.8" y="24.91" font-size="5.17" text-anchor="middle">10.0%</text>
<path d="M508.52 10.1H684.43" stroke="#222" stroke-width="0.95" fill="none"/>
<path d="M508.8 10.2V218.4H684.15V10.2" stroke="#222" stroke-width="0.56" fill="none"/>
<line x1="507.2" y1="218.4" x2="508.8" y2="218.4" stroke="#000" stroke-width="0.55"/>
<text x="505.85" y="220.79" font-size="5.72" text-anchor="end">0</text>
<line x1="507.2" y1="176.76" x2="508.8" y2="176.76" stroke="#000" stroke-width="0.55"/>
<text x="505.85" y="179.15" font-size="5.72" text-anchor="end">20</text>
<line x1="507.2" y1="135.12" x2="508.8" y2="135.12" stroke="#000" stroke-width="0.55"/>
<text x="505.85" y="137.51" font-size="5.72" text-anchor="end">40</text>
<line x1="507.2" y1="93.48" x2="508.8" y2="93.48" stroke="#000" stroke-width="0.55"/>
<text x="505.85" y="95.87" font-size="5.72" text-anchor="end">60</text>
<line x1="507.2" y1="51.84" x2="508.8" y2="51.84" stroke="#000" stroke-width="0.55"/>
<text x="505.85" y="54.23" font-size="5.72" text-anchor="end">80</text>
<line x1="507.2" y1="10.2" x2="508.8" y2="10.2" stroke="#000" stroke-width="0.55"/>
<text x="505.85" y="12.59" font-size="5.72" text-anchor="end">100</text>
<line x1="551.4" y1="218.4" x2="551.4" y2="220" stroke="#000" stroke-width="0.55"/>
<text x="551.6" y="226.1" font-size="6.06" text-anchor="middle">Control</text>
<line x1="640.8" y1="218.4" x2="640.8" y2="220" stroke="#000" stroke-width="0.55"/>
<text x="641" y="226.1" font-size="6.06" text-anchor="middle">Intervention</text>
<text x="596.2" y="7.7" font-size="6.82" text-anchor="middle">C) Emotional Profile Classification</text>
<text x="596.3" y="232.7" font-size="6.06" text-anchor="middle">Group</text>
<text transform="translate(491.2 114.3) rotate(-90)" font-size="6.06" text-anchor="middle">Percentage (%)</text>
<rect x="568.7" y="193.2" width="10.7" height="3.8" fill="#66c2a5"/>
<text x="584.1" y="196.9" font-size="5.2" text-anchor="start">Resilient</text>
<rect x="568.7" y="201.1" width="10.7" height="3.8" fill="#fc8d62"/>
<text x="584.1" y="204.8" font-size="5.2" text-anchor="start">Reactive</text>
<rect x="568.7" y="209" width="10.7" height="3.8" fill="#8da0cb"/>
<text x="584.1" y="212.7" font-size="5.2" text-anchor="start">Dysregulated</text>
</g>
</svg>
</body>
</html>
